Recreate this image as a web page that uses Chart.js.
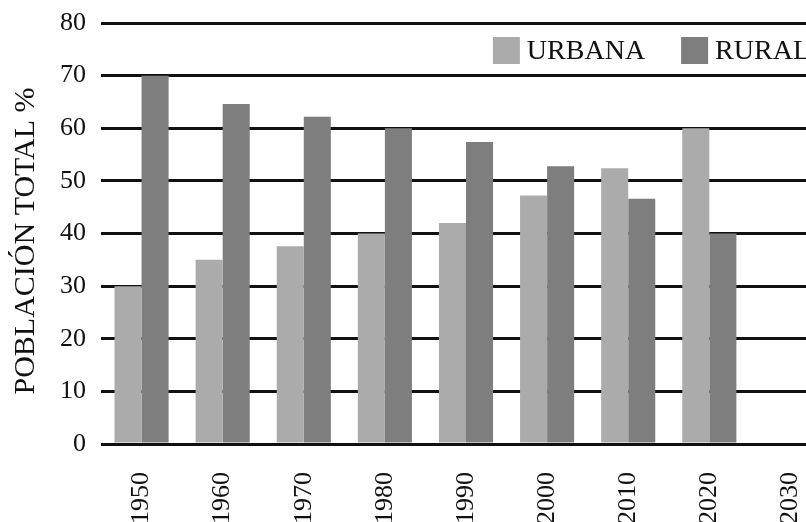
<!DOCTYPE html>
<html>
<head>
<meta charset="utf-8">
<script src="https://cdn.jsdelivr.net/npm/chart.js@4.4.1/dist/chart.umd.min.js"></script>
<style>
  html, body { margin: 0; padding: 0; background: #fff; overflow: hidden; }
  #wrap { width: 806px; height: 522px; overflow: hidden; }
</style>
</head>
<body>
<div id="wrap">
  <canvas id="myChart" width="831" height="527"></canvas>
</div>
<script>
// Bring in data
const years = ["1950", "1960", "1970", "1980", "1990", "2000", "2010", "2020", "2030"];
const urbana = [30, 35, 37.6, 40, 42, 47.2, 52.4, 60, null];
const rural = [70, 64.6, 62.2, 60, 57.4, 52.8, 46.6, 40, null];
const yTicks = [0, 10, 20, 30, 40, 50, 60, 70, 80];

const serif = "'Liberation Serif', 'Times New Roman', serif";

// legend sits inside the plot, right aligned, under the 80 line
const insideLegend = {
  id: "insideLegend",
  afterDraw(chart) {
    const c = chart.ctx;
    const area = chart.chartArea;
    const box = 27, gap = 7, itemGap = 36;
    c.save();
    c.font = "28px " + serif;
    c.textBaseline = "middle";
    c.textAlign = "left";
    let x = area.right - 21;
    const y = area.top + 14;
    const items = chart.data.datasets.slice().reverse();
    items.forEach((ds) => {
      const w = c.measureText(ds.label).width;
      x -= w;
      c.fillStyle = "#111";
      c.fillText(ds.label, x, y + box / 2 + 1);
      x -= gap + box;
      c.fillStyle = ds.backgroundColor;
      c.fillRect(x, y, box, box);
      x -= itemGap;
    });
    c.restore();
  }
};

const ctx = document.getElementById("myChart").getContext("2d");

new Chart(ctx, {
  type: "bar",
  data: {
    labels: years,
    datasets: [
      {
        label: "URBANA",
        data: urbana,
        backgroundColor: "#ababab",
        borderWidth: 0,
        barPercentage: 1,
        categoryPercentage: 0.667
      },
      {
        label: "RURAL",
        data: rural,
        backgroundColor: "#7e7e7e",
        borderWidth: 0,
        barPercentage: 1,
        categoryPercentage: 0.667
      }
    ]
  },
  plugins: [insideLegend],
  options: {
    responsive: false,
    animation: false,
    layout: { padding: { top: 23, right: 0, bottom: 0, left: 0 } },
    plugins: {
      tooltip: { enabled: false },
      legend: { display: false }
    },
    scales: {
      x: {
        grid: { display: false, drawTicks: true, tickLength: 25 },
        border: { display: false },
        ticks: {
          minRotation: 90,
          maxRotation: 90,
          padding: 3,
          color: "#111",
          font: { family: serif, size: 26 }
        }
      },
      y: {
        min: 0,
        max: 80,
        afterBuildTicks: (axis) => {
          axis.ticks = yTicks.map((v) => ({ value: v }));
        },
        grid: { color: "#111", lineWidth: 3, drawTicks: true, tickLength: 12, tickColor: "rgba(0,0,0,0)" },
        border: { display: false },
        ticks: {
          padding: 3,
          color: "#111",
          font: { family: serif, size: 26 }
        },
        title: {
          display: true,
          text: "POBLACIÓN TOTAL %  ",
          color: "#111",
          padding: { top: 8, bottom: 13 },
          font: { family: serif, size: 30 }
        }
      }
    }
  }
});
</script>
</body>
</html>
